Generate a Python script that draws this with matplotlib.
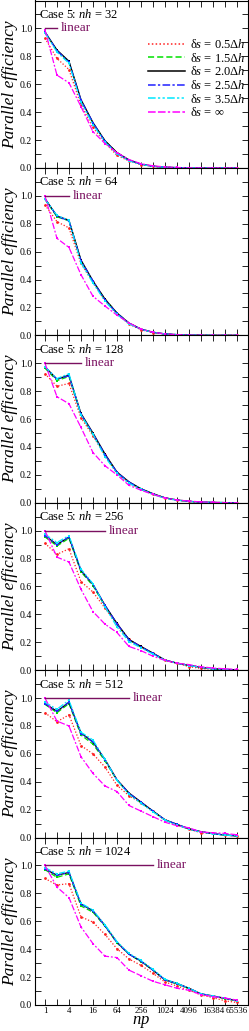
from matplotlib import pyplot as plt
from matplotlib.lines import Line2D
import numpy as np

plt.rcParams['font.family'] = ['Liberation Serif', 'DejaVu Serif']
plt.rcParams['mathtext.fontset'] = 'custom'
plt.rcParams['mathtext.rm'] = 'Liberation Serif'
plt.rcParams['mathtext.it'] = 'Liberation Serif:italic'

# numero de processos (np)
npro = [1, 2, 4, 8, 16, 32, 64, 128, 256, 512, 1024, 2048, 4096, 8192, 16384, 32768, 65536]
xticks = [1, 4, 16, 64, 256, 1024, 4096, 16384, 65536]
nh_list = [32, 64, 128, 256, 512, 1024]
linear_end = [2, 4, 8, 32, 128, 512]      # fim da linha "linear" em cada painel

# nh = 32
e32_05 = [0.93, 0.785, 0.705, 0.45, 0.29, 0.18, 0.09, 0.05, 0.024, 0.011, 0.005, 0.002, 0.001, 0.0, 0.0, 0.0, 0.0]
e32_15 = [0.97, 0.84, 0.76, 0.485, 0.32, 0.195, 0.11, 0.056, 0.026, 0.012, 0.005, 0.002, 0.001, 0.0, 0.0, 0.0, 0.0]
e32_20 = [0.975, 0.845, 0.765, 0.49, 0.325, 0.195, 0.11, 0.057, 0.027, 0.012, 0.005, 0.002, 0.001, 0.0, 0.0, 0.0, 0.0]
e32_25 = [0.975, 0.84, 0.76, 0.485, 0.325, 0.19, 0.105, 0.055, 0.026, 0.012, 0.005, 0.002, 0.001, 0.0, 0.0, 0.0, 0.0]
e32_35 = [0.97, 0.83, 0.75, 0.47, 0.31, 0.185, 0.10, 0.05, 0.025, 0.011, 0.005, 0.002, 0.001, 0.0, 0.0, 0.0, 0.0]
e32_in = [0.99, 0.665, 0.61, 0.44, 0.26, 0.175, 0.11, 0.06, 0.03, 0.015, 0.007, 0.003, 0.001, 0.0, 0.0, 0.0, 0.0]

# nh = 64
e64_05 = [0.935, 0.815, 0.77, 0.515, 0.38, 0.25, 0.155, 0.08, 0.04, 0.02, 0.01, 0.004, 0.002, 0.001, 0.0, 0.0, 0.0]
e64_15 = [0.975, 0.85, 0.82, 0.535, 0.385, 0.26, 0.16, 0.088, 0.045, 0.022, 0.01, 0.005, 0.002, 0.001, 0.0, 0.0, 0.0]
e64_20 = [0.98, 0.855, 0.825, 0.54, 0.39, 0.26, 0.16, 0.088, 0.045, 0.022, 0.01, 0.005, 0.002, 0.001, 0.0, 0.0, 0.0]
e64_25 = [0.98, 0.855, 0.82, 0.535, 0.39, 0.255, 0.158, 0.086, 0.044, 0.022, 0.01, 0.005, 0.002, 0.001, 0.0, 0.0, 0.0]
e64_35 = [0.975, 0.86, 0.825, 0.52, 0.375, 0.245, 0.15, 0.083, 0.043, 0.021, 0.01, 0.005, 0.002, 0.001, 0.0, 0.0, 0.0]
e64_in = [1.0, 0.695, 0.63, 0.435, 0.28, 0.21, 0.145, 0.09, 0.045, 0.022, 0.01, 0.005, 0.002, 0.001, 0.0, 0.0, 0.0]

# nh = 128
e128_05 = [0.925, 0.835, 0.855, 0.61, 0.48, 0.34, 0.21, 0.14, 0.095, 0.06, 0.033, 0.018, 0.009, 0.004, 0.002, 0.001, 0.0]
e128_15 = [0.965, 0.875, 0.905, 0.63, 0.49, 0.345, 0.215, 0.148, 0.1, 0.064, 0.035, 0.02, 0.01, 0.005, 0.002, 0.001, 0.0]
e128_20 = [0.975, 0.885, 0.915, 0.64, 0.5, 0.35, 0.22, 0.15, 0.1, 0.065, 0.035, 0.02, 0.01, 0.005, 0.002, 0.001, 0.0]
e128_25 = [0.975, 0.885, 0.91, 0.635, 0.495, 0.345, 0.218, 0.148, 0.1, 0.064, 0.035, 0.02, 0.01, 0.005, 0.002, 0.001, 0.0]
e128_35 = [0.975, 0.89, 0.925, 0.63, 0.49, 0.33, 0.21, 0.14, 0.095, 0.06, 0.032, 0.018, 0.009, 0.004, 0.002, 0.001, 0.0]
e128_in = [1.0, 0.76, 0.71, 0.54, 0.36, 0.265, 0.2, 0.125, 0.09, 0.06, 0.035, 0.02, 0.012, 0.006, 0.003, 0.001, 0.0]

# nh = 256
e256_05 = [0.91, 0.83, 0.87, 0.635, 0.56, 0.445, 0.33, 0.22, 0.165, 0.12, 0.072, 0.05, 0.025, 0.012, 0.006, 0.004, 0.002]
e256_15 = [0.955, 0.89, 0.945, 0.705, 0.605, 0.46, 0.33, 0.22, 0.165, 0.12, 0.072, 0.05, 0.035, 0.02, 0.01, 0.005, 0.003]
e256_20 = [0.965, 0.9, 0.955, 0.715, 0.615, 0.465, 0.335, 0.22, 0.17, 0.122, 0.073, 0.05, 0.035, 0.02, 0.01, 0.005, 0.003]
e256_25 = [0.965, 0.9, 0.955, 0.715, 0.615, 0.465, 0.333, 0.218, 0.168, 0.12, 0.073, 0.05, 0.035, 0.02, 0.01, 0.005, 0.003]
e256_35 = [0.975, 0.915, 0.965, 0.725, 0.62, 0.455, 0.31, 0.205, 0.16, 0.115, 0.07, 0.05, 0.033, 0.02, 0.01, 0.005, 0.003]
e256_in = [1.0, 0.81, 0.775, 0.58, 0.42, 0.33, 0.27, 0.17, 0.14, 0.1, 0.07, 0.05, 0.04, 0.025, 0.015, 0.01, 0.005]

# nh = 512
e512_05 = [0.895, 0.83, 0.88, 0.66, 0.6, 0.505, 0.375, 0.3, 0.25, 0.19, 0.125, 0.09, 0.06, 0.035, 0.03, 0.02, 0.01]
e512_15 = [0.955, 0.895, 0.96, 0.735, 0.67, 0.55, 0.41, 0.315, 0.25, 0.19, 0.125, 0.093, 0.062, 0.042, 0.028, 0.018, 0.012]
e512_20 = [0.96, 0.905, 0.97, 0.75, 0.685, 0.56, 0.415, 0.32, 0.255, 0.19, 0.128, 0.095, 0.063, 0.042, 0.028, 0.018, 0.012]
e512_25 = [0.96, 0.905, 0.97, 0.745, 0.685, 0.558, 0.413, 0.318, 0.253, 0.19, 0.127, 0.095, 0.063, 0.042, 0.028, 0.018, 0.012]
e512_35 = [0.97, 0.92, 0.985, 0.755, 0.7, 0.56, 0.41, 0.31, 0.245, 0.185, 0.125, 0.09, 0.06, 0.04, 0.027, 0.018, 0.012]
e512_in = [1.0, 0.835, 0.8, 0.58, 0.46, 0.37, 0.33, 0.23, 0.19, 0.15, 0.11, 0.085, 0.07, 0.04, 0.035, 0.03, 0.02]

# nh = 1024
e1024_05 = [0.907, 0.86, 0.87, 0.632, 0.594, 0.506, 0.403, 0.33, 0.284, 0.227, 0.165, 0.136, 0.107, 0.072, 0.053, 0.03, 0.018]
e1024_15 = [0.97, 0.915, 0.94, 0.71, 0.665, 0.565, 0.445, 0.365, 0.31, 0.25, 0.18, 0.15, 0.118, 0.078, 0.062, 0.046, 0.03]
e1024_20 = [0.975, 0.93, 0.95, 0.725, 0.675, 0.57, 0.45, 0.365, 0.315, 0.25, 0.18, 0.155, 0.12, 0.08, 0.065, 0.048, 0.03]
e1024_25 = [0.975, 0.93, 0.95, 0.722, 0.673, 0.568, 0.448, 0.365, 0.313, 0.25, 0.18, 0.153, 0.12, 0.08, 0.064, 0.048, 0.03]
e1024_35 = [0.985, 0.94, 0.96, 0.73, 0.68, 0.575, 0.455, 0.37, 0.32, 0.255, 0.185, 0.155, 0.12, 0.08, 0.063, 0.05, 0.032]
e1024_in = [1.0, 0.845, 0.77, 0.56, 0.44, 0.35, 0.34, 0.25, 0.21, 0.17, 0.145, 0.12, 0.105, 0.075, 0.06, 0.05, 0.035]

dados = [
    [e32_05, e32_15, e32_20, e32_25, e32_35, e32_in],
    [e64_05, e64_15, e64_20, e64_25, e64_35, e64_in],
    [e128_05, e128_15, e128_20, e128_25, e128_35, e128_in],
    [e256_05, e256_15, e256_20, e256_25, e256_35, e256_in],
    [e512_05, e512_15, e512_20, e512_25, e512_35, e512_in],
    [e1024_05, e1024_15, e1024_20, e1024_25, e1024_35, e1024_in],
]

# estilos das curvas
cores = ['#ff2020', '#00e000', 'black', '#2020ff', '#00e8ff', '#ff00ff']
estilos = [(0, (1, 1.5)), (0, (4, 2)), '-', (0, (5, 1.5, 1.5, 1.5)),
           (0, (5, 1.5, 1.5, 1.5, 1.5, 1.5)), (0, (5, 1.5, 5, 1.5, 1.5, 1.5))]
marcas = ['o', 's', 's', 's', 's', 's']
textos = ['δ$s$ = 0.5Δ$h$', 'δ$s$ = 1.5Δ$h$', 'δ$s$ = 2.0Δ$h$',
          'δ$s$ = 2.5Δ$h$', 'δ$s$ = 3.5Δ$h$', 'δ$s$ = ∞']
roxo = '#7a1060'

fig = plt.figure(figsize=(2.49, 10.31), dpi=100)
gs = fig.add_gridspec(6, 1, left=35/249, right=248/249, bottom=1-1005/1031,
                      top=1-0.5/1031, hspace=0)

for k in range(6):
    ax = fig.add_subplot(gs[k])
    for j in range(6):
        ax.plot(npro, dados[k][j], color=cores[j], ls=estilos[j], lw=0.9,
                marker=marcas[j], ms=2.0, mew=0)
    # linha "linear"
    ax.plot([1, linear_end[k]], [1.0, 1.0], color=roxo, lw=1.0)
    ax.annotate('linear', xy=(linear_end[k], 1.0), xytext=(3, 0),
                textcoords='offset points', va='center', ha='left',
                color=roxo, fontsize=9.5)
    ax.text(0.02, 0.955, 'Case 5: $nh$ = %d' % nh_list[k], transform=ax.transAxes,
            va='top', ha='left', fontsize=9)

    ax.set_xscale('log', base=2)
    ax.set_xlim(2**-0.83, 2**16.92)
    ax.set_ylim(0, 1.2)
    ax.set_xticks(npro, minor=True)
    ax.set_xticks(xticks)
    ax.set_yticks(np.arange(0, 1.01, 0.2))
    ax.set_yticks(np.arange(0.1, 1.15, 0.1), minor=True)
    ax.yaxis.set_major_formatter(plt.FormatStrFormatter('%.1f'))
    ax.xaxis.set_minor_formatter(plt.NullFormatter())
    if k == 5:
        ax.set_xticklabels([str(v) for v in xticks])
        ax.set_xlabel('$np$', fontsize=12, labelpad=-1)
    else:
        ax.set_xticklabels([])
    ax.tick_params(which='both', direction='in', top=True, right=True,
                   labelsize=7, pad=2, width=0.6)
    ax.tick_params(axis='x', labelsize=6.4, pad=1.5)
    ax.tick_params(which='major', length=4)
    ax.tick_params(which='minor', length=4)
    ax.set_ylabel('Parallel efficiency', fontsize=12.5, style='italic', labelpad=1)
    for s in ax.spines.values():
        s.set_linewidth(0.8)

    if k == 0:
        alcas = [Line2D([], [], color=cores[j], ls=estilos[j], lw=1.1) for j in range(6)]
        ax.legend(alcas, textos, loc='upper right', bbox_to_anchor=(1.0, 0.79),
                  frameon=False, fontsize=9, handlelength=3.0, handletextpad=0.4,
                  labelspacing=0.05, borderaxespad=0.2, borderpad=0)

plt.savefig('out.png', dpi=100)
